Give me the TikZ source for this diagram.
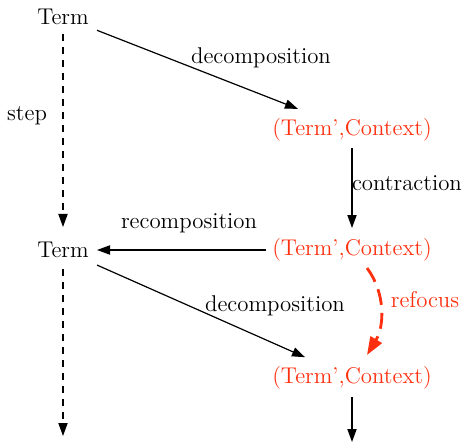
\documentclass[tikz,border=0pt]{standalone}
\usetikzlibrary{arrows.meta,calc}
\definecolor{focusred}{RGB}{255,48,16}
\tikzset{
  lbl/.style={inner sep=0pt, outer sep=0pt, font=\fontsize{11.4}{13}\selectfont},
  term/.style={lbl},
  pair/.style={lbl, text=focusred},
  arr/.style={line width=0.6pt, -{Triangle[length=6.5pt,width=4.6pt]}},
  darr/.style={arr, dash pattern=on 3.5pt off 3pt},
  refarr/.style={line width=1.4pt, draw=focusred, dash pattern=on 8pt off 4pt,
                 -{Triangle[length=9pt,width=6.5pt,fill=focusred]}}
}
\begin{document}
\begin{tikzpicture}[x=0.5pt,y=-0.5pt]
  \useasboundingbox (0,0) rectangle (465,443);

  % states
  \node[term] (t1)  at (63,17)   {Term};
  \node[pair] (tc1) at (352,130) {(Term',Context)};
  \node[pair] (tc2) at (352,250) {(Term',Context)};
  \node[term] (t2)  at (63,250)  {Term};
  \node[pair] (tc3) at (352,378) {(Term',Context)};
  \coordinate (d1) at (63,436);
  \coordinate (d2) at (352,442);

  % edge labels
  \node[lbl] (l1) at (261,58)  {decomposition};
  \node[lbl] (l2) at (27,116)  {step};
  \node[lbl, anchor=west] (l3) at (352,183) {contraction};
  \node[lbl] (l4) at (189,223) {recomposition};
  \node[lbl] (l5) at (275,306) {decomposition};
  \node[lbl, text=focusred] (l6) at (425,300) {refocus};

  % transitions
  \draw[arr, shorten <=18.25pt, shorten >=29pt] (t1.center) -- (tc1.center);
  \draw[darr, shorten <=8.5pt, shorten >=11.5pt] (t1.center) -- (t2.center);
  \draw[arr, shorten <=9pt, shorten >=11pt] (tc1.center) -- (tc2.center);
  \draw[arr, shorten <=43pt, shorten >=17pt] (tc2.center) -- (t2.center);
  \draw[arr, shorten <=18.6pt, shorten >=25.7pt] (t2.center) -- (tc3.center);
  \draw[darr, shorten <=9.5pt] (t2.center) -- (d1);
  \draw[arr, shorten <=9.5pt] (tc3.center) -- (d2);
  \draw[refarr] ($(tc2.center)+(15,18)$) .. controls (385,292) and (385,325) .. ($(tc3.center)+(15,-23)$);
\end{tikzpicture}
\end{document}
